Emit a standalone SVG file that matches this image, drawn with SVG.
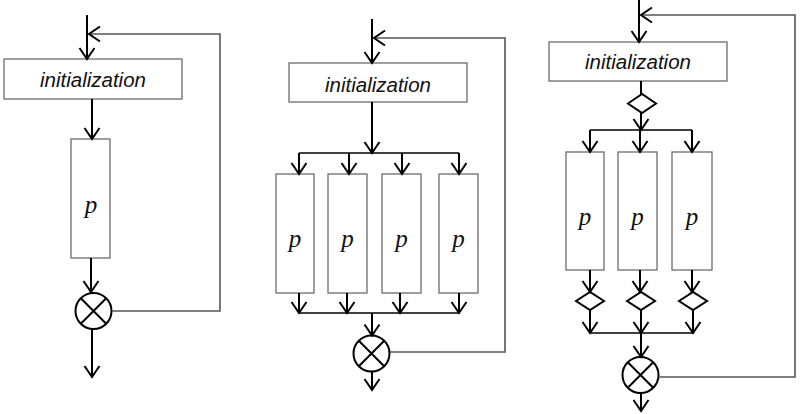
<svg xmlns="http://www.w3.org/2000/svg" width="803" height="414" viewBox="0 0 803 414">
<style>
.box{fill:#fff;stroke:#777;stroke-width:1.4}
.ar{fill:none;stroke:#000;stroke-width:2}
.fb{fill:none;stroke:#555;stroke-width:1.6}
.ln{fill:none;stroke:#000;stroke-width:1.6}
.dm{fill:#fff;stroke:#000;stroke-width:2}
.cx{fill:#fff;stroke:#000;stroke-width:2}
.init{font-family:"Liberation Sans",Arial,sans-serif;font-style:italic;font-size:20.5px;text-anchor:middle;fill:#111}
.p{font-family:"Liberation Serif","Times New Roman",serif;font-style:italic;font-size:25px;text-anchor:middle;fill:#111}
</style>
<defs>
<marker id="ah" markerUnits="userSpaceOnUse" viewBox="-12 -10 24 20" markerWidth="24" markerHeight="20" refX="0" refY="0" orient="auto" overflow="visible">
<path d="M-11,-7.5 L0,0 L-11,7.5" fill="none" stroke="#000" stroke-width="2"/>
</marker>
<g id="xc"><circle r="18" class="cx"/><path d="M-12.7,-12.7 L12.7,12.7 M-12.7,12.7 L12.7,-12.7" stroke="#000" stroke-width="2"/></g>
</defs>

<!-- Panel 1 -->
<g id="p1-init"><rect class="box" x="4" y="59" width="178" height="40"/><text class="init" x="93" y="87">initialization</text></g>
<g id="p1-p"><rect class="box" x="71" y="139" width="39" height="119"/><text class="p" x="91" y="213">p</text></g>
<g id="p1-x"><use href="#xc" x="93.5" y="311"/></g>
<g id="p1-connectors">
<path class="ar" d="M87,15 V59" marker-end="url(#ah)"/>
<path class="fb" d="M112,311 H220 V34 H89" marker-end="url(#ah)"/>
<path class="ar" d="M92,99 V139" marker-end="url(#ah)"/>
<path class="ar" d="M91,258 V292" marker-end="url(#ah)"/>
<path class="ar" d="M92,329 V377" marker-end="url(#ah)"/>
</g>

<!-- Panel 2 -->
<g id="p2-init"><rect class="box" x="289" y="63" width="178" height="39"/><text class="init" x="378" y="92">initialization</text></g>
<g id="p2-p1"><rect class="box" x="276" y="174" width="38" height="119"/><text class="p" x="295" y="247">p</text></g>
<g id="p2-p2"><rect class="box" x="328" y="174" width="39" height="119"/><text class="p" x="347.5" y="247">p</text></g>
<g id="p2-p3"><rect class="box" x="382" y="174" width="39" height="119"/><text class="p" x="401.5" y="247">p</text></g>
<g id="p2-p4"><rect class="box" x="439" y="174" width="39" height="119"/><text class="p" x="458.5" y="247">p</text></g>
<g id="p2-x"><use href="#xc" x="371.5" y="353.5"/></g>
<g id="p2-connectors">
<path class="ar" d="M372,19 V63" marker-end="url(#ah)"/>
<path class="fb" d="M390,352 H505 V38 H374" marker-end="url(#ah)"/>
<path class="ar" d="M372,102 V153" marker-end="url(#ah)"/>
<path class="ln" d="M299,153 H459"/>
<path class="ar" d="M299,153 V174" marker-end="url(#ah)"/>
<path class="ar" d="M349,153 V174" marker-end="url(#ah)"/>
<path class="ar" d="M402,153 V174" marker-end="url(#ah)"/>
<path class="ar" d="M459,153 V174" marker-end="url(#ah)"/>
<path class="ar" d="M299,293 V313" marker-end="url(#ah)"/>
<path class="ar" d="M347,293 V313" marker-end="url(#ah)"/>
<path class="ar" d="M400,293 V313" marker-end="url(#ah)"/>
<path class="ar" d="M459,293 V313" marker-end="url(#ah)"/>
<path class="ln" d="M299,313 H459"/>
<path class="ar" d="M372,313 V335.5" marker-end="url(#ah)"/>
<path class="ar" d="M372,371.5 V390" marker-end="url(#ah)"/>
</g>

<!-- Panel 3 -->
<g id="p3-init"><rect class="box" x="549" y="42" width="178" height="39"/><text class="init" x="638" y="69">initialization</text></g>
<g id="p3-d0"><path class="dm" d="M628,103.5 L642,94 L656,103.5 L642,113 Z"/></g>
<g id="p3-p1"><rect class="box" x="566" y="152" width="38" height="118"/><text class="p" x="585" y="225">p</text></g>
<g id="p3-p2"><rect class="box" x="618" y="152" width="39" height="118"/><text class="p" x="637.5" y="225">p</text></g>
<g id="p3-p3"><rect class="box" x="672" y="152" width="40" height="118"/><text class="p" x="692" y="225">p</text></g>
<g id="p3-d1"><path class="dm" d="M576,301 L590,292 L604,301 L590,310 Z"/></g>
<g id="p3-d2"><path class="dm" d="M627,301 L641,292 L655,301 L641,310 Z"/></g>
<g id="p3-d3"><path class="dm" d="M679,301 L693,292 L707,301 L693,310 Z"/></g>
<g id="p3-x"><use href="#xc" x="640.5" y="375"/></g>
<g id="p3-connectors">
<path class="ar" d="M639,0 V42" marker-end="url(#ah)"/>
<path class="fb" d="M658.5,377 H795 V15 H641" marker-end="url(#ah)"/>
<path class="ar" d="M641,81 V94"/>
<path class="ar" d="M641,113 V130" marker-end="url(#ah)"/>
<path class="ln" d="M590,130 H692"/>
<path class="ar" d="M590,130 V152" marker-end="url(#ah)"/>
<path class="ar" d="M640,130 V152" marker-end="url(#ah)"/>
<path class="ar" d="M692,130 V152" marker-end="url(#ah)"/>
<path class="ar" d="M590,270 V292" marker-end="url(#ah)"/>
<path class="ar" d="M640,270 V292" marker-end="url(#ah)"/>
<path class="ar" d="M692,270 V292" marker-end="url(#ah)"/>
<path class="ar" d="M590,310 V333" marker-end="url(#ah)"/>
<path class="ar" d="M641,310 V333" marker-end="url(#ah)"/>
<path class="ar" d="M693,310 V333" marker-end="url(#ah)"/>
<path class="ln" d="M590,333 H693"/>
<path class="ar" d="M641,333 V357" marker-end="url(#ah)"/>
<path class="ar" d="M641,393 V411" marker-end="url(#ah)"/>
</g>
</svg>
